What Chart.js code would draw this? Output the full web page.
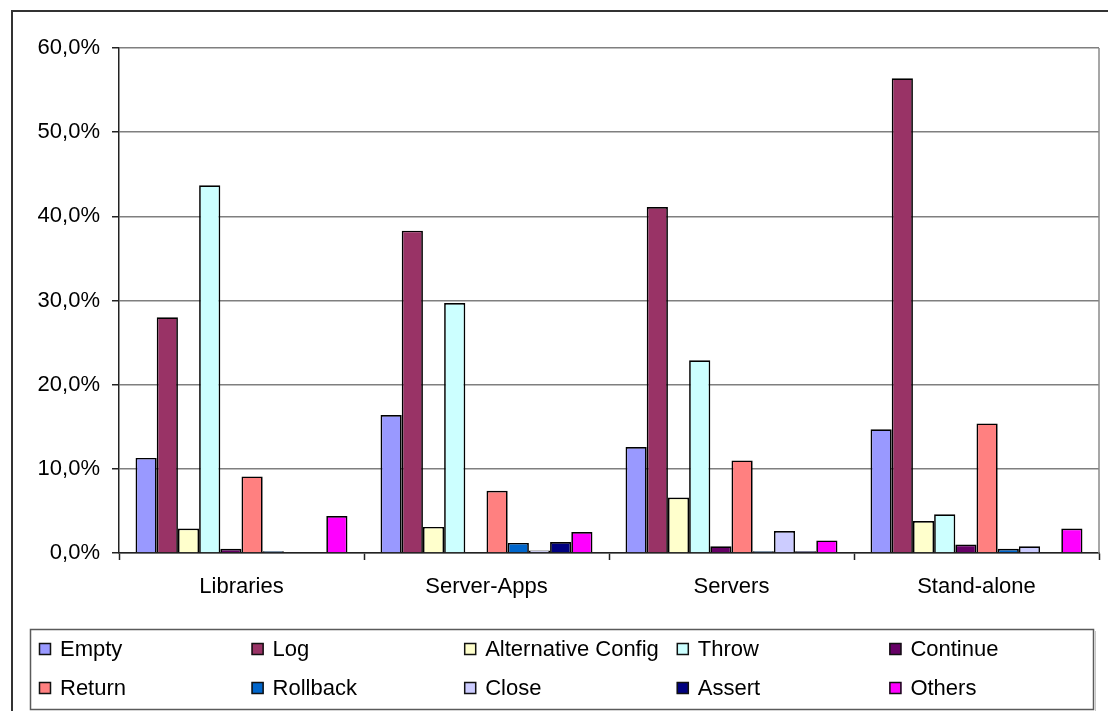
<!DOCTYPE html>
<html>
<head>
<meta charset="utf-8">
<script src="https://cdn.jsdelivr.net/npm/chart.js@4/dist/chart.umd.min.js"></script>
<style>
  html, body { margin: 0; padding: 0; background: #ffffff; }
  canvas { display: block; }
</style>
</head>
<body>
<canvas id="c" width="1108" height="711"></canvas>
<script>
// Project types on the x axis
const categories = ['Libraries', 'Server-Apps', 'Servers', 'Stand-alone'];

// Share of exception handlers per handling strategy (%)
const emptyVals    = [11.3, 16.4, 12.6, 14.7];
const logVals      = [28.0, 38.3, 41.1, 56.4];
const altConfVals  = [2.9, 3.1, 6.6, 3.8];
const throwVals    = [43.7, 29.7, 22.9, 4.6];
const continueVals = [0.5, 0.0, 0.8, 1.0];
const returnVals   = [9.1, 7.4, 11.0, 15.4];
const rollbackVals = [0.2, 1.2, 0.2, 0.5];
const closeVals    = [0.0, 0.3, 2.6, 0.8];
const assertVals   = [0.0, 1.3, 0.2, 0.0];
const othersVals   = [4.4, 2.5, 1.5, 2.9];

const seriesNames  = ['Empty', 'Log', 'Alternative Config', 'Throw', 'Continue',
                      'Return', 'Rollback', 'Close', 'Assert', 'Others'];
const seriesValues = [emptyVals, logVals, altConfVals, throwVals, continueVals,
                      returnVals, rollbackVals, closeVals, assertVals, othersVals];
const seriesColors = ['#9999FF', '#993366', '#FFFFCC', '#CCFFFF', '#660066',
                      '#FF8080', '#0066CC', '#CCCCFF', '#000080', '#FF00FF'];

// Y axis tick labels (0 .. 60 in steps of 10)
const yTickLabels = ['0,0%', '10,0%', '20,0%', '30,0%', '40,0%', '50,0%', '60,0%'];

const FONT = '"Liberation Sans", Arial, sans-serif';

// Outer frame, right border of the plot and the two-row legend box
const decorations = {
  id: 'decorations',
  afterDraw(chart) {
    const ctx = chart.ctx;
    const area = chart.chartArea;
    ctx.save();

    // outer frame (top and left edges)
    ctx.strokeStyle = '#333333';
    ctx.lineWidth = 2;
    ctx.beginPath();
    ctx.moveTo(1108, 11);
    ctx.lineTo(12, 11);
    ctx.lineTo(12, 711);
    ctx.stroke();

    // right edge of the plot area
    ctx.strokeStyle = '#8a8a8a';
    ctx.lineWidth = 1.5;
    ctx.beginPath();
    ctx.moveTo(area.right, area.top);
    ctx.lineTo(area.right, area.bottom);
    ctx.stroke();

    // legend box
    const lx = 30, ly = 629, lw = 1063, lh = 80;
    ctx.strokeStyle = '#5a5a5a';
    ctx.lineWidth = 1.5;
    ctx.strokeRect(lx + 0.5, ly + 0.5, lw, lh);
    ctx.strokeStyle = '#c8c8c8';
    ctx.lineWidth = 1;
    ctx.beginPath();
    ctx.moveTo(lx + 2, ly + lh + 2.5);
    ctx.lineTo(lx + lw + 2.5, ly + lh + 2.5);
    ctx.lineTo(lx + lw + 2.5, ly + 2);
    ctx.stroke();

    ctx.font = '22px ' + FONT;
    ctx.textBaseline = 'middle';
    ctx.textAlign = 'left';
    const colStep = 212.6;
    const rowY = [649, 688];
    chart.data.datasets.forEach((ds, i) => {
      const col = i % 5, row = Math.floor(i / 5);
      const x = 39 + col * colStep;
      const y = rowY[row];
      ctx.fillStyle = ds.backgroundColor;
      ctx.fillRect(x, y - 6, 12, 12);
      ctx.strokeStyle = '#111111';
      ctx.lineWidth = 1.5;
      ctx.strokeRect(x + 0.5, y - 5.5, 11, 11);
      ctx.fillStyle = '#000000';
      ctx.fillText(ds.label, x + 21, y + 1);
    });

    ctx.restore();
  }
};

new Chart(document.getElementById('c'), {
  type: 'bar',
  data: {
    labels: categories,
    datasets: seriesNames.map((name, i) => ({
      label: name,
      data: seriesValues[i],
      backgroundColor: seriesColors[i],
      borderColor: '#000000',
      borderWidth: 1.7,
      categoryPercentage: 0.865,
      barPercentage: 1.0
    }))
  },
  options: {
    responsive: false,
    animation: false,
    layout: { padding: { left: 0, top: 48, right: 9, bottom: 0 } },
    plugins: {
      legend: { display: false },
      tooltip: { enabled: false }
    },
    scales: {
      x: {
        offset: true,
        grid: {
          offset: true,
          drawOnChartArea: false,
          drawTicks: true,
          tickLength: 7,
          tickColor: '#222222',
          tickWidth: 1.5
        },
        border: { color: '#222222', width: 1.5 },
        ticks: {
          color: '#000000',
          padding: 14,
          font: { family: FONT, size: 22 }
        },
        afterFit(scale) { scale.height = 158; }
      },
      y: {
        min: 0,
        max: 60,
        grid: {
          color: '#7f7f7f',
          lineWidth: 1.5,
          drawTicks: true,
          tickLength: 7,
          tickColor: '#222222',
          tickWidth: 1.5
        },
        border: { color: '#222222', width: 1.5 },
        ticks: {
          stepSize: 10,
          color: '#000000',
          padding: 12,
          font: { family: FONT, size: 22 },
          callback: (v) => yTickLabels[Math.round(v / 10)]
        },
        afterFit(scale) { scale.width = 119; }
      }
    }
  },
  plugins: [decorations]
});
</script>
</body>
</html>
